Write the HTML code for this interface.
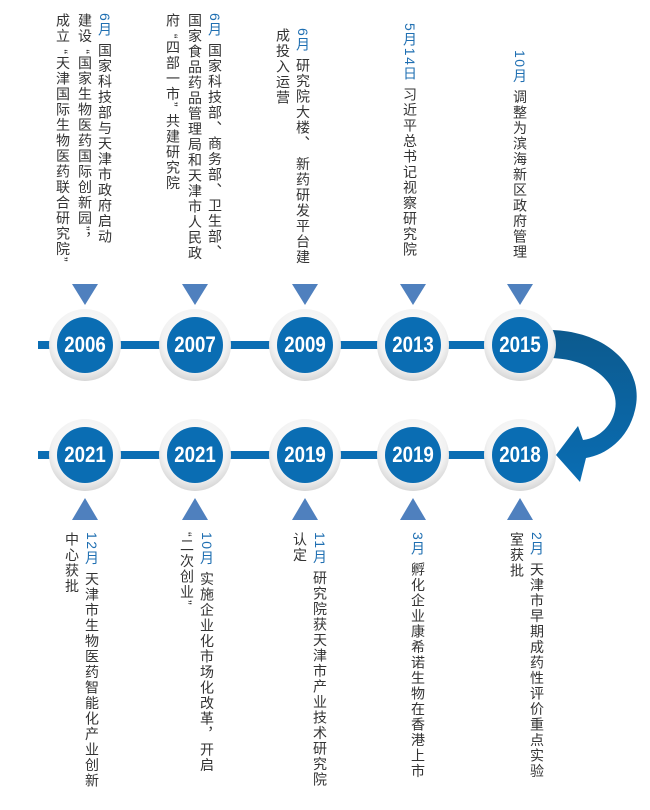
<!DOCTYPE html>
<html><head><meta charset="utf-8"><style>
html,body{margin:0;padding:0;background:#fff;}
#c{position:relative;width:650px;height:810px;overflow:hidden;}
.col{position:absolute;writing-mode:vertical-rl;font-family:"Liberation Sans","Noto Sans CJK SC",sans-serif;font-size:14px;letter-spacing:1.5px;line-height:20px;color:#333;white-space:nowrap;}
.m{color:#1f6fb2;}
.yr{position:absolute;width:60px;height:30px;line-height:30px;text-align:center;font-family:"Liberation Sans Narrow","Liberation Sans",sans-serif;font-weight:bold;font-size:22px;color:#fff;transform:scaleX(0.85);letter-spacing:0px;}
</style></head><body><div id="c">
<svg width="650" height="810" style="position:absolute;left:0;top:0">
<defs>
<radialGradient id="ring" cx="50%" cy="40%" r="60%"><stop offset="0" stop-color="#ffffff"/><stop offset="0.75" stop-color="#f2f2f2"/><stop offset="1" stop-color="#d6d6d6"/></radialGradient>
<linearGradient id="arr" x1="0" y1="0" x2="0" y2="1"><stop offset="0" stop-color="#0c5a8e"/><stop offset="1" stop-color="#0a6db3"/></linearGradient>
</defs>
<rect x="38" y="341" width="490" height="8" fill="#0a6db3"/>
<rect x="38" y="451" width="490" height="8" fill="#0a6db3"/>
<path d="M552,330 C610,332 645,370 635,410 C628,440 605,455 586,458 L580,482 L556,455 L578,426 L583,440 C600,438 612,425 615,410 C620,385 595,360 552,358 Z" fill="url(#arr)"/>
<g fill="#4f80be">
<polygon points="72,284 98,284 85,305"/><polygon points="182,284 208,284 195,305"/><polygon points="292,284 318,284 305,305"/><polygon points="400,284 426,284 413,305"/><polygon points="507,284 533,284 520,305"/>
<polygon points="72,520 98,520 85,498"/><polygon points="182,520 208,520 195,498"/><polygon points="292,520 318,520 305,498"/><polygon points="400,520 426,520 413,498"/><polygon points="507,520 533,520 520,498"/>
</g>
<g>
<circle cx="85" cy="345" r="36" fill="url(#ring)"/><circle cx="195" cy="345" r="36" fill="url(#ring)"/><circle cx="305" cy="345" r="36" fill="url(#ring)"/><circle cx="413" cy="345" r="36" fill="url(#ring)"/><circle cx="520" cy="345" r="36" fill="url(#ring)"/>
<circle cx="85" cy="455" r="36" fill="url(#ring)"/><circle cx="195" cy="455" r="36" fill="url(#ring)"/><circle cx="305" cy="455" r="36" fill="url(#ring)"/><circle cx="413" cy="455" r="36" fill="url(#ring)"/><circle cx="520" cy="455" r="36" fill="url(#ring)"/>
</g>
<g fill="#0a6db3">
<circle cx="85" cy="345" r="28"/><circle cx="195" cy="345" r="28"/><circle cx="305" cy="345" r="28"/><circle cx="413" cy="345" r="28"/><circle cx="520" cy="345" r="28"/>
<circle cx="85" cy="455" r="28"/><circle cx="195" cy="455" r="28"/><circle cx="305" cy="455" r="28"/><circle cx="413" cy="455" r="28"/><circle cx="520" cy="455" r="28"/>
</g>
</svg>
<div class="yr" style="left:55px;top:330px">2006</div>
<div class="yr" style="left:165px;top:330px">2007</div>
<div class="yr" style="left:275px;top:330px">2009</div>
<div class="yr" style="left:383px;top:330px">2013</div>
<div class="yr" style="left:490px;top:330px">2015</div>
<div class="yr" style="left:55px;top:440px">2021</div>
<div class="yr" style="left:165px;top:440px">2021</div>
<div class="yr" style="left:275px;top:440px">2019</div>
<div class="yr" style="left:383px;top:440px">2019</div>
<div class="yr" style="left:490px;top:440px">2018</div>

<div class="col" style="left:95px;top:13px"><span class="m">6月</span> 国家科技部与天津市政府启动</div>
<div class="col" style="left:75px;top:13px">建设 “国家生物医药国际创新园”，</div>
<div class="col" style="left:53px;top:13px">成立 “天津国际生物医药联合研究院”</div>

<div class="col" style="left:205px;top:13px"><span class="m">6月</span> 国家科技部、商务部、卫生部、</div>
<div class="col" style="left:185px;top:13px">国家食品药品管理局和天津市人民政</div>
<div class="col" style="left:163px;top:13px">府 “四部一市” 共建研究院</div>

<div class="col" style="left:293px;top:28px"><span class="m">6月</span> 研究院大楼、 新药研发平台建</div>
<div class="col" style="left:273px;top:28px">成投入运营</div>

<div class="col" style="left:400px;top:23px"><span class="m">5月14日</span> 习近平总书记视察研究院</div>

<div class="col" style="left:510px;top:50px"><span class="m">10月</span> 调整为滨海新区政府管理</div>

<div class="col" style="left:82px;top:532px"><span class="m">12月</span> 天津市生物医药智能化产业创新</div>
<div class="col" style="left:62px;top:532px">中心获批</div>

<div class="col" style="left:197px;top:532px"><span class="m">10月</span> 实施企业化市场化改革，开启</div>
<div class="col" style="left:177px;top:532px">“二次创业”</div>

<div class="col" style="left:310px;top:532px"><span class="m">11月</span> 研究院获天津市产业技术研究院</div>
<div class="col" style="left:290px;top:532px">认定</div>

<div class="col" style="left:408px;top:532px"><span class="m">3月</span> 孵化企业康希诺生物在香港上市</div>

<div class="col" style="left:527px;top:532px"><span class="m">2月</span> 天津市早期成药性评价重点实验</div>
<div class="col" style="left:507px;top:532px">室获批</div>
</div></body></html>
